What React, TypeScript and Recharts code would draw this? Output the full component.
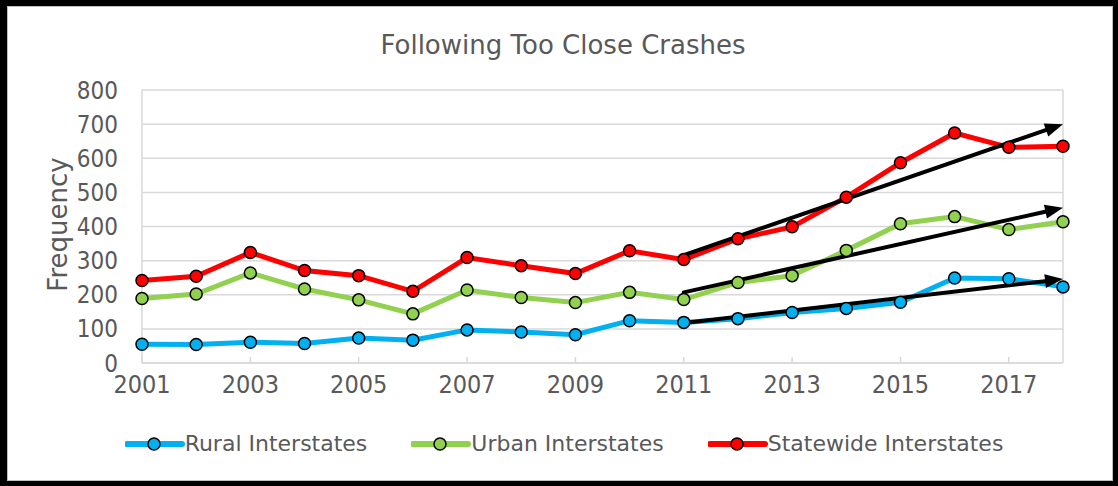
import React from "react";
import {
  LineChart,
  Line,
  XAxis,
  YAxis,
  CartesianGrid,
  ReferenceLine,
} from "recharts";

const years = [
  "2001", "2002", "2003", "2004", "2005", "2006", "2007", "2008", "2009",
  "2010", "2011", "2012", "2013", "2014", "2015", "2016", "2017", "2018",
];
const rural = [55, 54, 61, 57, 73, 67, 97, 91, 83, 124, 119, 130, 148, 160, 178, 249, 247, 223];
const urban = [189, 202, 264, 217, 185, 144, 214, 192, 177, 207, 186, 236, 256, 330, 408, 429, 391, 414];
const statewide = [242, 254, 324, 271, 256, 210, 309, 285, 262, 329, 303, 364, 399, 486, 587, 674, 632, 635];
const yTicks = [0, 100, 200, 300, 400, 500, 600, 700, 800];

// trend arrows 2011 -> 2018 (rural, urban, statewide)
const trendFrom = "2011";
const trendTo = "2018";
const trendStart = [117, 207, 316];
const trendEnd = [246, 455, 700];

const series = [
  { key: "rural", name: "Rural Interstates", color: "#00B0F0" },
  { key: "urban", name: "Urban Interstates", color: "#92D050" },
  { key: "statewide", name: "Statewide Interstates", color: "#FF0000" },
];

const data = years.map((year, i) => ({
  year,
  rural: rural[i],
  urban: urban[i],
  statewide: statewide[i],
}));

const FONT = "'DejaVu Sans', sans-serif";
const NUM_FONT = "'DejaVu Sans Condensed', 'DejaVu Sans', sans-serif";
const TEXT = "#595959";
const GRID = "#D9D9D9";

const Arrow = (props: any) => {
  const { x1, y1, x2, y2 } = props;
  const ang = Math.atan2(y2 - y1, x2 - x1);
  const len = 18;
  const half = 7;
  const bx = x2 - len * Math.cos(ang);
  const by = y2 - len * Math.sin(ang);
  const px = -Math.sin(ang) * half;
  const py = Math.cos(ang) * half;
  return (
    <g>
      <line x1={x1} y1={y1} x2={bx + 2 * Math.cos(ang)} y2={by + 2 * Math.sin(ang)} stroke="#000" strokeWidth={4} strokeLinecap="round" />
      <polygon points={`${x2},${y2} ${bx + px},${by + py} ${bx - px},${by - py}`} fill="#000" />
    </g>
  );
};

const YLabel = (props: any) => {
  const { viewBox } = props;
  const x = viewBox.x - 24;
  const y = viewBox.y + viewBox.height / 2 - 2;
  return (
    <text x={x} y={y} transform={`rotate(-90, ${x}, ${y})`} textAnchor="middle" dominantBaseline="central"
      fill={TEXT} fontSize={26} fontFamily={FONT}>
      Frequency
    </text>
  );
};

export default function App() {
  return (
    <div style={{ position: "absolute", left: 0, top: 0, width: 1118, height: 486, background: "#fff", fontFamily: FONT }}>
      <div style={{ position: "absolute", left: 4, top: 25, width: 1118, textAlign: "center", fontSize: 26, color: TEXT, lineHeight: "40px" }}>
        Following Too Close Crashes
      </div>
      <LineChart
        width={1118}
        height={486}
        data={data}
        margin={{ top: 90, right: 55, bottom: 93, left: 82 }}
        style={{ position: "absolute", left: 0, top: 0 }}
      >
        <CartesianGrid horizontal vertical={false} stroke={GRID} strokeWidth={1.5} />
        <XAxis
          dataKey="year"
          interval={1}
          height={30}
          tickSize={-6}
          tickMargin={18}
          stroke={GRID}
          strokeWidth={1.5}
          tick={{ fill: TEXT, fontSize: 25, fontFamily: NUM_FONT }}
        />
        <YAxis
          domain={[0, 800]}
          ticks={yTicks}
          interval={0}
          width={60}
          tickLine={false}
          tickSize={0}
          tickMargin={24}
          stroke={GRID}
          strokeWidth={1.5}
          tick={{ fill: TEXT, fontSize: 24, fontFamily: NUM_FONT }}
          label={<YLabel />}
        />
        <ReferenceLine x="2018" stroke={GRID} strokeWidth={1.5} />
        {series.map((s) => (
          <Line
            key={s.key}
            dataKey={s.key}
            name={s.name}
            stroke={s.color}
            strokeWidth={5}
            dot={{ r: 6, fill: s.color, stroke: "#000", strokeWidth: 1.5 }}
            isAnimationActive={false}
          />
        ))}
        {trendStart.map((v, i) => (
          <ReferenceLine
            key={i}
            segment={[{ x: trendFrom, y: v }, { x: trendTo, y: trendEnd[i] }]}
            shape={Arrow}
          />
        ))}
      </LineChart>
      <div style={{ position: "absolute", left: 0, top: 429, width: 1118, display: "flex", justifyContent: "center", gap: 44, paddingLeft: 10, boxSizing: "border-box" }}>
        {series.map((s) => (
          <div key={s.key} style={{ display: "flex", alignItems: "center" }}>
            <svg width={60} height={30}>
              <line x1={2} y1={15} x2={57} y2={15} stroke={s.color} strokeWidth={6} strokeLinecap="round" />
              <circle cx={29} cy={15} r={6} fill={s.color} stroke="#000" strokeWidth={1.5} />
            </svg>
            <span style={{ fontSize: 22, color: TEXT, lineHeight: "30px" }}>{s.name}</span>
          </div>
        ))}
      </div>
      <div style={{ position: "absolute", left: 0, top: 0, width: 1118, height: 486, boxSizing: "border-box", borderStyle: "solid", borderColor: "#000", borderWidth: "6px 5px 5px 7px", pointerEvents: "none" }}>
        <div style={{ width: "100%", height: "100%", boxSizing: "border-box", border: "1px solid #BFBFBF" }} />
      </div>
    </div>
  );
}
